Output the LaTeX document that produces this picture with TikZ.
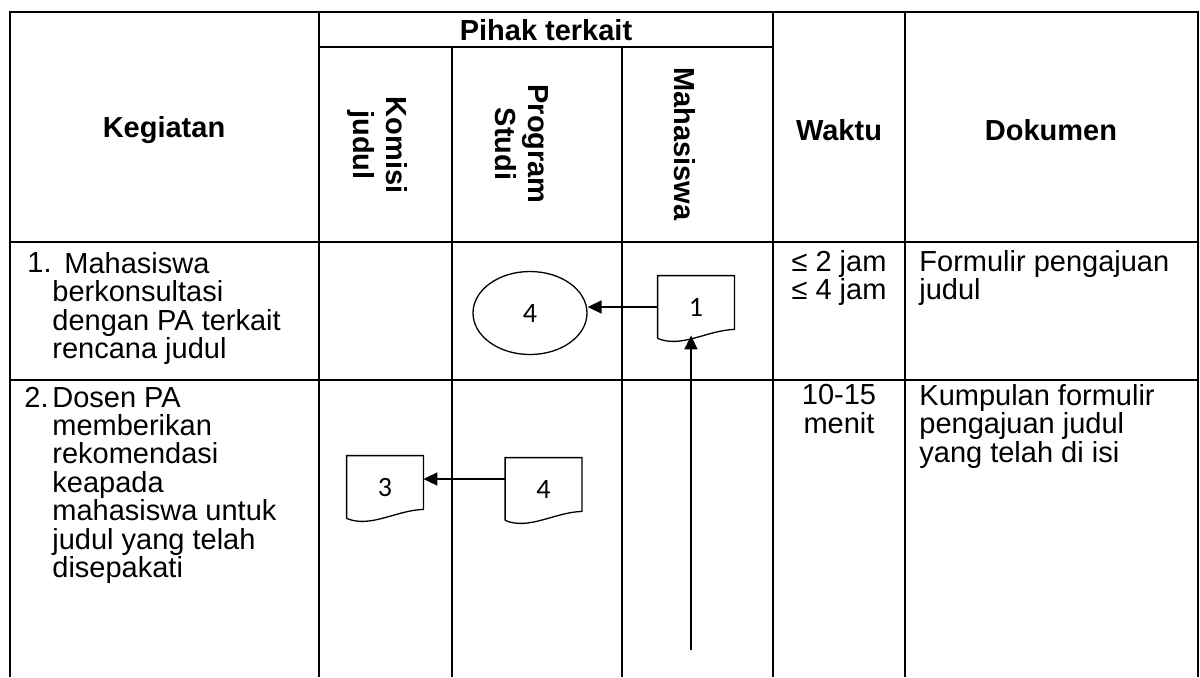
\documentclass[tikz,border=0pt]{standalone}
\usepackage{fontspec}
\setmainfont{Liberation Sans}
\newfontfamily\carlito{Carlito}
\usetikzlibrary{shapes.geometric,arrows.meta}

% draws the outline of a document symbol round a node
\newcommand\docoutline[1]{%
  \draw[docline] (#1.south west) -- (#1.north west) -- (#1.north east)
    -- ([yshift=4.5pt]#1.south east)
    .. controls ([xshift=-14pt,yshift=4pt]#1.south east) and ([xshift=12pt,yshift=-5pt]#1.south west)
    .. (#1.south west);}

\begin{document}
\begin{tikzpicture}[
  x=0.5pt, y=-0.5pt,
  tbl/.style={line width=1.1pt},
  head/.style={
    font=\bfseries\fontsize{14.5}{16.5}\selectfont,
    inner sep=0pt,
    align=center
  },
  cell/.style={
    font=\fontsize{14.5}{14.2}\selectfont,
    inner sep=0pt,
    align=left,
    anchor=north west,
    execute at begin node=\strut
  },
  waktu/.style={
    cell,
    align=center,
    anchor=north
  },
  docbox/.style={
    minimum width=38pt,
    minimum height=31pt,
    inner sep=0pt,
    font=\carlito\fontsize{14}{16}\selectfont
  },
  docline/.style={line width=0.65pt},
  proc/.style={
    ellipse,
    draw,
    line width=0.65pt,
    minimum width=57pt,
    minimum height=41.5pt,
    inner sep=0pt,
    font=\carlito\fontsize{14}{16}\selectfont
  },
  flow/.style={
    line width=0.85pt,
    -{Triangle[length=7pt,width=6.5pt]}
  }
]
\useasboundingbox (0,0) rectangle (1200,677);

% table
\draw[tbl] (10,677) -- (10,12) -- (1198,12) -- (1198,677);
\foreach \y in {242,380} {
  \draw[tbl] (10,\y) -- (1198,\y);
}
\foreach \x in {319,773,905} {
  \draw[tbl] (\x,12) -- (\x,677);
}
\foreach \x in {452,622} {
  \draw[tbl] (\x,47) -- (\x,677);
}
\draw[tbl] (319,47) -- (773,47);

% header
\node[head] (hdKeg) at (164,130) {Kegiatan};
\node[head] (hdPihak) at (546,30) {Pihak terkait};
\node[head,rotate=-90] (hdKomisi) at (377,145) {Komisi\\judul};
\node[head,rotate=-90] (hdProdi) at (522,144) {Program\\Studi};
\node[head,rotate=-90] (hdMhs) at (685,144) {Mahasiswa};
\node[head] (hdWaktu) at (839,130) {Waktu};
\node[head] (hdDok) at (1051,130) {Dokumen};

% row 1
\node[cell] (num1) at (27,251.8) {1.};
\node[cell] (keg1) at (52,251.8) {\hspace*{6pt}Mahasiswa\\berkonsultasi\\dengan PA terkait\\rencana judul};
\node[waktu] (wkt1) at (839,250.1) {≤ 2 jam\\≤ 4 jam};
\node[cell] (dok1) at (919,250.1) {Formulir pengajuan\\judul};

% row 2
\node[cell] (num2) at (24,386.8) {2.};
\node[cell] (keg2) at (52,386.8) {Dosen PA\\memberikan\\rekomendasi\\keapada\\mahasiswa untuk\\judul yang telah\\disepakati};
\node[waktu] (wkt2) at (839,384.1) {10-15\\menit};
\node[cell] (dok2) at (919,384.1) {Kumpulan formulir\\pengajuan judul\\yang telah di isi};

% flow symbols
\node[proc] (p4) at (530,313) {4};
\node[docbox] (d1) at (696,307) {1};
\docoutline{d1}
\node[docbox] (d3) at (385,487) {3};
\docoutline{d3}
\node[docbox] (d4) at (543.5,489) {4};
\docoutline{d4}
\coordinate (mhsEnd) at (691,650);

% connectors
\draw[flow] (d1.west) -- (d1.west -| p4.east);
\draw[flow] ([yshift=5pt]d4.west) -- ([yshift=5pt]d4.west -| d3.east);
\draw[flow,shorten >=-1.5pt] (mhsEnd) -- (mhsEnd |- d1.south);
\end{tikzpicture}
\end{document}
